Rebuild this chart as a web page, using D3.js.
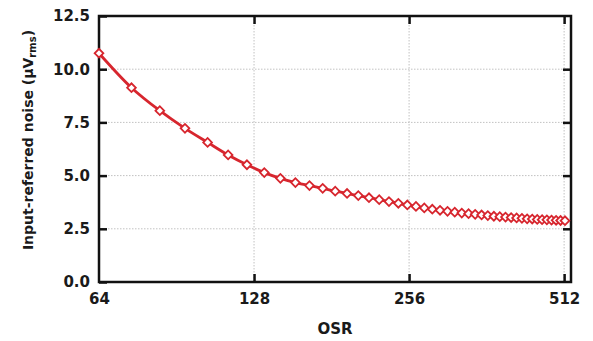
<!DOCTYPE html>
<html>
<head>
<meta charset="utf-8">
<script src="https://cdn.jsdelivr.net/npm/d3@7"></script>
<style>
  body { margin: 0; background: #fff; }
  svg { display: block; font-family: "DejaVu Sans", sans-serif; font-weight: bold; }
</style>
</head>
<body>
<svg width="593" height="341"></svg>
<script>
const osr = [64, 74, 84, 94, 104, 114, 124, 134, 144, 154, 164, 174, 184, 194, 204, 214,
    224, 234, 244, 254, 264, 274, 284, 294, 304, 314, 324, 334, 344, 354, 364, 374,
    384, 394, 404, 414, 424, 434, 444, 454, 464, 474, 484, 494, 504, 514];
const noise = [10.75, 9.13, 8.05, 7.22, 6.56, 5.97, 5.51, 5.14, 4.87, 4.67, 4.53, 4.40,
    4.27, 4.16, 4.06, 3.96, 3.87, 3.78, 3.70, 3.62, 3.55, 3.48, 3.42, 3.37, 3.32, 3.28,
    3.24, 3.21, 3.18, 3.15, 3.12, 3.09, 3.07, 3.05, 3.03, 3.01, 2.99, 2.97, 2.96, 2.94,
    2.93, 2.92, 2.91, 2.90, 2.89, 2.88];
const xTicks = [64, 128, 256, 512];
const yTicks = [0, 2.5, 5, 7.5, 10, 12.5];

const red = "#d7262e";
const mLeft = 99, mRight = 571, mTop = 16, mBottom = 282;

const svg = d3.select("svg");

const x = d3.scaleLog().base(2).domain([64, 528]).range([mLeft, mRight]);
const y = d3.scaleLinear().domain([0, 12.5]).range([mBottom, mTop]);

// dotted grid
const grid = svg.append("g")
    .attr("stroke", "#c2c2c2")
    .attr("stroke-width", 1)
    .attr("stroke-dasharray", "1.5,1.5");
grid.selectAll("line.h")
    .data(yTicks.filter(d => d > 0 && d < 12.5))
    .join("line")
    .attr("class", "h")
    .attr("x1", mLeft).attr("x2", mRight)
    .attr("y1", d => y(d)).attr("y2", d => y(d));
grid.selectAll("line.v")
    .data(xTicks.slice(1))
    .join("line")
    .attr("class", "v")
    .attr("x1", d => x(d)).attr("x2", d => x(d))
    .attr("y1", mTop).attr("y2", mBottom);

// axes with inward ticks
const fmt = d3.format(".1f");
const axisStyle = g => {
    g.select(".domain").remove();
    g.selectAll(".tick line").attr("stroke", "#111").attr("stroke-width", 2.5);
    g.selectAll(".tick text")
        .attr("fill", "#1a1a1a")
        .style("font-size", "15px")
        .style("font-weight", "bold")
        .style("font-family", "DejaVu Sans, sans-serif");
};

svg.append("g")
    .attr("transform", `translate(${mLeft},0)`)
    .call(d3.axisLeft(y).tickValues(yTicks).tickFormat(fmt).tickSize(-8).tickPadding(9))
    .call(axisStyle);

svg.append("g")
    .attr("transform", `translate(${mRight},0)`)
    .call(d3.axisRight(y).tickValues(yTicks.slice(1, -1)).tickSize(-8).tickFormat(""))
    .call(axisStyle);

svg.append("g")
    .attr("transform", `translate(0,${mBottom})`)
    .call(d3.axisBottom(x).tickValues(xTicks).tickFormat(d3.format("d")).tickSize(-8).tickPadding(11))
    .call(axisStyle)
    .call(g => g.select(".tick line").remove());

svg.append("g")
    .attr("transform", `translate(0,${mTop})`)
    .call(d3.axisTop(x).tickValues(xTicks.slice(1)).tickSize(-8).tickFormat(""))
    .call(axisStyle);

// frame
svg.append("rect")
    .attr("x", mLeft).attr("y", mTop)
    .attr("width", mRight - mLeft).attr("height", mBottom - mTop)
    .attr("fill", "none")
    .attr("stroke", "#111")
    .attr("stroke-width", 2.5);

// curve
const pts = osr.map((d, i) => [d, noise[i]]);
svg.append("path")
    .datum(pts)
    .attr("fill", "none")
    .attr("stroke", red)
    .attr("stroke-width", 2.8)
    .attr("d", d3.line().x(d => x(d[0])).y(d => y(d[1])).curve(d3.curveMonotoneX));

// diamond markers
const sym = d3.symbol().type(d3.symbolSquare).size(38);
svg.append("g")
    .selectAll("path")
    .data(pts)
    .join("path")
    .attr("transform", d => `translate(${x(d[0])},${y(d[1])}) rotate(45)`)
    .attr("d", sym)
    .attr("fill", "#fff")
    .attr("stroke", red)
    .attr("stroke-width", 1.8);

// axis titles
svg.append("text")
    .attr("x", 335).attr("y", 334)
    .attr("text-anchor", "middle")
    .attr("fill", "#1a1a1a")
    .style("font-size", "15px")
    .text("OSR");

const yl = svg.append("text")
    .attr("transform", "translate(33,140) rotate(-90)")
    .attr("text-anchor", "middle")
    .attr("fill", "#1a1a1a")
    .style("font-size", "14px");
yl.append("tspan").text("Input-referred noise (μV");
yl.append("tspan").attr("dy", 3).style("font-size", "10px").text("rms");
yl.append("tspan").attr("dy", -3).text(")");
</script>
</body>
</html>
